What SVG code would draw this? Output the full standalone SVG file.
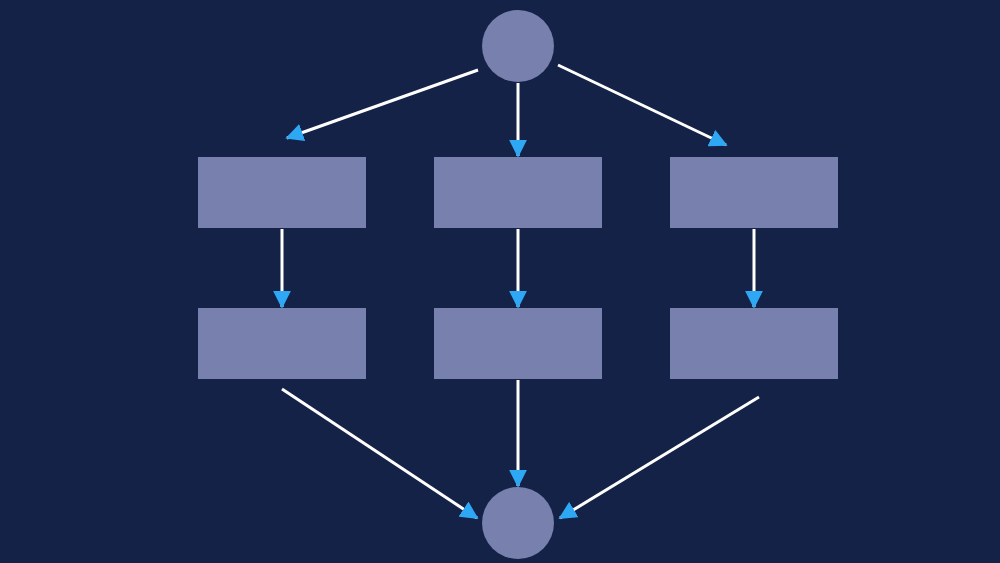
<svg xmlns="http://www.w3.org/2000/svg" width="1000" height="563" viewBox="0 0 1000 563">
<style>.n{fill:#7880ae}.c line{stroke:#fff;stroke-width:3;marker-end:url(#a)}</style>
<defs><marker id="a" viewBox="0 0 10 10" refX="9" refY="5" markerWidth="6" markerHeight="6" markerUnits="strokeWidth" orient="auto"><path d="M0,0L10,5L0,10Z" fill="#2ea8f5"/></marker></defs>
<rect width="1000" height="563" fill="#152247"/>
<g id="top"><circle class="n" cx="518" cy="46" r="36"/></g>
<g id="bottom"><circle class="n" cx="518" cy="523" r="36"/></g>
<g id="r1"><rect class="n" x="198" y="157" width="168" height="71"/></g>
<g id="r2"><rect class="n" x="434" y="157" width="168" height="71"/></g>
<g id="r3"><rect class="n" x="670" y="157" width="168" height="71"/></g>
<g id="r4"><rect class="n" x="198" y="308" width="168" height="71"/></g>
<g id="r5"><rect class="n" x="434" y="308" width="168" height="71"/></g>
<g id="r6"><rect class="n" x="670" y="308" width="168" height="71"/></g>
<g class="c">
<line x1="478" y1="70" x2="287" y2="138"/>
<line x1="518" y1="83" x2="518" y2="156"/>
<line x1="558" y1="65" x2="726" y2="145"/>
<line x1="282" y1="229" x2="282" y2="307"/>
<line x1="518" y1="229" x2="518" y2="307"/>
<line x1="754" y1="229" x2="754" y2="307"/>
<line x1="282" y1="389" x2="477" y2="518"/>
<line x1="518" y1="380" x2="518" y2="486"/>
<line x1="759" y1="397" x2="560" y2="518"/>
</g>
</svg>
